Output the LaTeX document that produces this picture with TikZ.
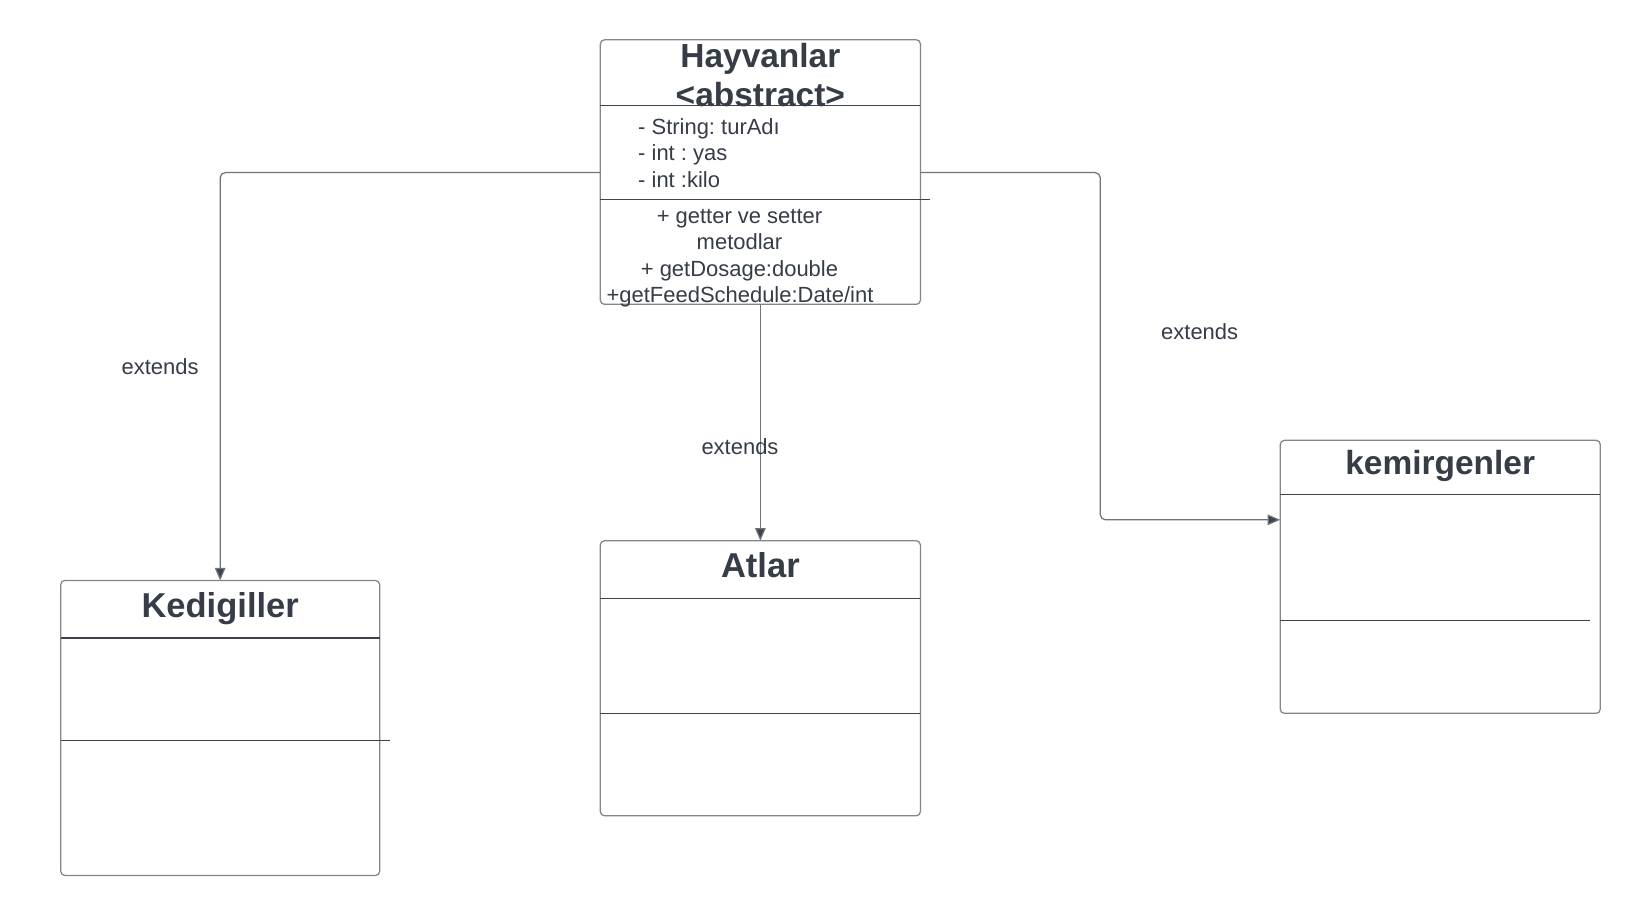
\documentclass[tikz,border=0pt]{standalone}
\usepackage{fontspec}
\setmainfont{Liberation Sans}
\usetikzlibrary{arrows.meta}
\frenchspacing
\definecolor{txt}{HTML}{363D47}
\definecolor{bord}{HTML}{82878E}
\definecolor{divc}{HTML}{3D434B}
\definecolor{conc}{HTML}{6E737A}
\tikzset{
  cls/.style={draw=bord, line width=1.2pt, rounded corners=4pt, inner sep=0pt, outer sep=0pt, anchor=north west, fill=white},
  divline/.style={draw=divc, line width=1.1pt},
  conn/.style={draw=conc, line width=1.2pt, rounded corners=5pt, -{Triangle[length=12pt,width=10pt,fill=divc]}},
  ttl/.style={text=txt, font=\bfseries\fontsize{32}{37}\selectfont, inner sep=0pt, anchor=base},
  ttlb/.style={text=txt, font=\bfseries\fontsize{33}{38}\selectfont, inner sep=0pt, anchor=base},
  mem/.style={text=txt, font=\fontsize{21}{25}\selectfont, inner sep=0pt},
  lbl/.style={text=txt, font=\fontsize{21}{25}\selectfont, inner sep=0pt, anchor=base}
}
\begin{document}
\begin{tikzpicture}[x=1pt,y=-1pt]
\useasboundingbox[fill=white] (0,0) rectangle (1568,876);

% class boxes
\node[cls, minimum width=306pt, minimum height=253pt] (hay) at (574,38) {};
\node[cls, minimum width=305pt, minimum height=282pt] (ked) at (58,555) {};
\node[cls, minimum width=306pt, minimum height=263pt] (atl) at (574,517) {};
\node[cls, minimum width=306pt, minimum height=261pt] (kem) at (1224,421) {};

% connectors
\coordinate (bend) at (1052,497);
\draw[conn] ([yshift=-127pt]hay.north west) -| (ked.north);
\draw[conn] (hay.south) -- (atl.north);
\draw[conn] ([yshift=-127pt]hay.north east) -| (bend) -- ([yshift=-76pt]kem.north west);

% dividers
\draw[divline] ([yshift=-63pt]hay.north west) -- ([yshift=-63pt]hay.north east);
\draw[divline] ([yshift=-153pt]hay.north west) -- ([yshift=-153pt,xshift=9pt]hay.north east);
\draw[divline] ([yshift=-55pt]ked.north west) -- ([yshift=-55pt]ked.north east);
\draw[divline] ([yshift=-153pt]ked.north west) -- ([yshift=-153pt,xshift=10pt]ked.north east);
\draw[divline] ([yshift=-55pt]atl.north west) -- ([yshift=-55pt]atl.north east);
\draw[divline] ([yshift=-165pt]atl.north west) -- ([yshift=-165pt]atl.north east);
\draw[divline] ([yshift=-52pt]kem.north west) -- ([yshift=-52pt]kem.north east);
\draw[divline] ([yshift=-172pt]kem.north west) -- ([yshift=-172pt,xshift=-10pt]kem.north east);

% titles
\node[ttl] (hayT1) at (727,64.5) {Hayvanlar};
\node[ttl] (hayT2) at (727,101.5) {<abstract>};
\node[ttlb] (kedT) at (210.5,590) {Kedigiller};
\node[ttlb] (atlT) at (727,552) {Atlar};
\node[ttl] (kemT) at (1377,454) {kemirgenler};

% attributes
\node[mem, anchor=base west] (a1) at (610,128.5) {- String: turAdı};
\node[mem, anchor=base west] (a2) at (610,153.5) {- int : yas};
\node[mem, anchor=base west] (a3) at (610,179.5) {- int :kilo};

% methods
\node[mem, anchor=base] (m1) at (707,213.5) {+ getter ve setter};
\node[mem, anchor=base] (m2) at (707,238.5) {metodlar};
\node[mem, anchor=base] (m3) at (707,264.5) {+ getDosage:double};
\node[mem, anchor=base] (m4) at (707.5,289.5) {+getFeedSchedule:Date/int};

% labels
\node[lbl] (l1) at (153,358.5) {extends};
\node[lbl] (l2) at (707.5,434.5) {extends};
\node[lbl] (l3) at (1147,324.5) {extends};
\end{tikzpicture}
\end{document}
